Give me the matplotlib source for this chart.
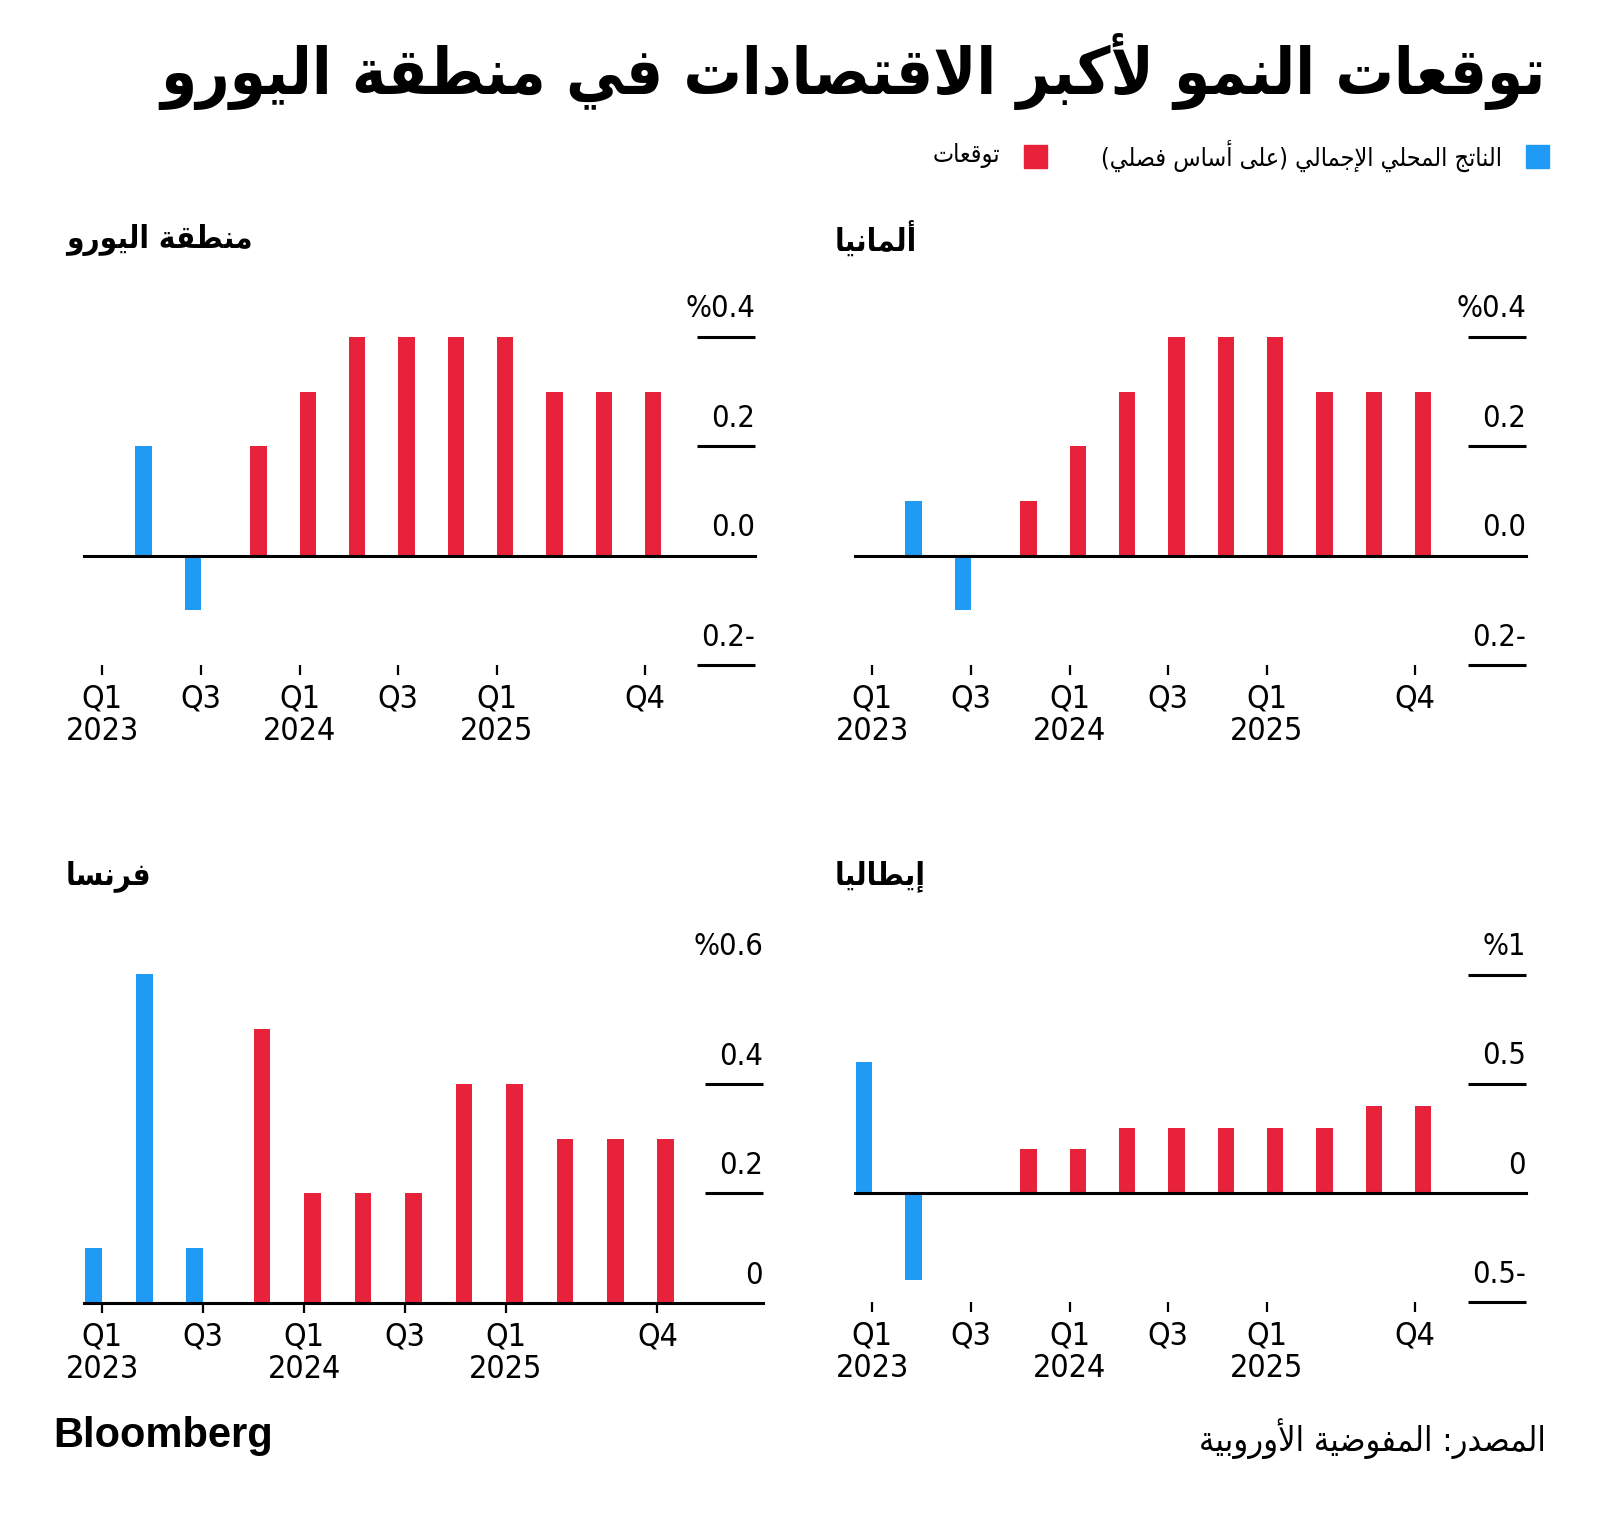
import matplotlib
matplotlib.use("Agg")
import matplotlib.pyplot as plt
from matplotlib.patches import Rectangle

# --- data -------------------------------------------------------------
tick_idx = [0, 2, 4, 6, 8, 11]
tick_labels = ["Q1\n2023", "Q3", "Q1\n2024", "Q3", "Q1\n2025", "Q4"]

euro_gdp = [0.0, 0.2, -0.1]
euro_fc = [0.2, 0.3, 0.4, 0.4, 0.4, 0.4, 0.3, 0.3, 0.3]
germany_gdp = [0.0, 0.1, -0.1]
germany_fc = [0.1, 0.2, 0.3, 0.4, 0.4, 0.4, 0.3, 0.3, 0.3]
france_gdp = [0.1, 0.6, 0.1]
france_fc = [0.5, 0.2, 0.2, 0.2, 0.4, 0.4, 0.3, 0.3, 0.3]
italy_gdp = [0.6, -0.4, 0.0]
italy_fc = [0.2, 0.2, 0.3, 0.3, 0.3, 0.3, 0.3, 0.4, 0.4]

title = "توقعات النمو لأكبر الاقتصادات في منطقة اليورو"
legend_gdp = "الناتج المحلي الإجمالي (على أساس فصلي)"
legend_fc = "توقعات"
source = "المصدر: المفوضية الأوروبية"

BLUE = "#1f9bf6"
RED = "#e8223a"
NUM_FONT = ["DejaVu Sans"]
AR_FONT = ["DejaVu Sans"]

# --- minimal arabic shaping (matplotlib has no bidi / joining) -------------
_right = {'\u0622': 0xFE81, '\u0623': 0xFE83, '\u0624': 0xFE85, '\u0625': 0xFE87,
          '\u0627': 0xFE8D, '\u0629': 0xFE93, '\u062F': 0xFEA9, '\u0630': 0xFEAB,
          '\u0631': 0xFEAD, '\u0632': 0xFEAF, '\u0648': 0xFEED, '\u0649': 0xFEEF}
_dual = {'\u0626': 0xFE89, '\u0628': 0xFE8F, '\u062A': 0xFE95, '\u062B': 0xFE99,
         '\u062C': 0xFE9D, '\u062D': 0xFEA1, '\u062E': 0xFEA5, '\u0633': 0xFEB1,
         '\u0634': 0xFEB5, '\u0635': 0xFEB9, '\u0636': 0xFEBD, '\u0637': 0xFEC1,
         '\u0638': 0xFEC5, '\u0639': 0xFEC9, '\u063A': 0xFECD, '\u0641': 0xFED1,
         '\u0642': 0xFED5, '\u0643': 0xFED9, '\u0644': 0xFEDD, '\u0645': 0xFEE1,
         '\u0646': 0xFEE5, '\u0647': 0xFEE9, '\u064A': 0xFEF1}
_lamalef = {'\u0622': 0xFEF5, '\u0623': 0xFEF7, '\u0625': 0xFEF9, '\u0627': 0xFEFB}


def ar(text):
    units = []
    i = 0
    while i < len(text):
        c = text[i]
        if c == '\u0644' and i + 1 < len(text) and text[i + 1] in _lamalef:
            units.append((_lamalef[text[i + 1]], 'R'))
            i += 2
            continue
        if c in _dual:
            units.append((_dual[c], 'D'))
        elif c in _right:
            units.append((_right[c], 'R'))
        else:
            units.append((c, 'N'))
        i += 1
    out = []
    for k, (u, kind) in enumerate(units):
        if kind == 'N':
            out.append(u)
            continue
        jp = k > 0 and units[k - 1][1] == 'D'
        jn = kind == 'D' and k + 1 < len(units) and units[k + 1][1] in 'DR'
        if kind == 'R':
            form = 1 if jp else 0
        else:
            form = {(False, False): 0, (True, False): 1,
                    (False, True): 2, (True, True): 3}[(jp, jn)]
        out.append(chr(u + form))
    s = ''.join(reversed(out))
    return s.translate(str.maketrans('()', ')('))


# --- panels -------------------------------------------------------------
W, H = 1600, 1513
panels = [
    dict(name="منطقة اليورو", gdp=euro_gdp, fc=euro_fc,
         yticks=[0.4, 0.2, 0.0, -0.2], ylabels=["%0.4", "0.2", "0.0", "0.2-"],
         ylines=[0.4, 0.2, -0.2], ylim=(-0.2, 0.45),
         px=(84, 755), py=(309.5, 665), xlim=(-0.37, 13.23), tx=66, ty=240),
    dict(name="ألمانيا", gdp=germany_gdp, fc=germany_fc,
         yticks=[0.4, 0.2, 0.0, -0.2], ylabels=["%0.4", "0.2", "0.0", "0.2-"],
         ylines=[0.4, 0.2, -0.2], ylim=(-0.2, 0.45),
         px=(855, 1526), py=(309.5, 665), xlim=(-0.35, 13.25), tx=835, ty=240),
    dict(name="فرنسا", gdp=france_gdp, fc=france_fc,
         yticks=[0.6, 0.4, 0.2, 0.0], ylabels=["%0.6", "0.4", "0.2", "0"],
         ylines=[0.4, 0.2], ylim=(0.0, 0.62),
         px=(84, 763), py=(963.5, 1303), xlim=(-0.36, 13.09), tx=66, ty=876),
    dict(name="إيطاليا", gdp=italy_gdp, fc=italy_fc,
         yticks=[1.0, 0.5, 0.0, -0.5], ylabels=["%1", "0.5", "0", "0.5-"],
         ylines=[1.0, 0.5, -0.5], ylim=(-0.5, 1.05),
         px=(855, 1526), py=(964, 1302), xlim=(-0.35, 13.25), tx=835, ty=876),
]

fig = plt.figure(figsize=(W / 100, H / 100), dpi=100)
fig.patch.set_facecolor("white")

w = 0.333
for p in panels:
    x0, x1 = p["px"]
    y0, y1 = p["py"]
    ax = fig.add_axes([x0 / W, 1 - y1 / H, (x1 - x0) / W, (y1 - y0) / H])
    n_gdp = len(p["gdp"])
    xs_gdp = [i - w / 2 for i in range(n_gdp)]
    xs_fc = [n_gdp + i + w / 2 for i in range(len(p["fc"]))]
    ax.bar(xs_gdp, p["gdp"], width=w, color=BLUE, zorder=2)
    ax.bar(xs_fc, p["fc"], width=w, color=RED, zorder=2)
    ax.axhline(0, color="black", lw=2.2, zorder=3, clip_on=False)
    ax.set_xlim(*p["xlim"])
    ax.set_ylim(*p["ylim"])
    for s in ax.spines.values():
        s.set_visible(False)
    ax.set_yticks([])
    ax.set_xticks(tick_idx, tick_labels)
    ax.tick_params(axis="x", length=7.5, width=1.6, pad=6, labelsize=23,
                   color="black")
    for lab in ax.get_xticklabels():
        lab.set_family(NUM_FONT)
        lab.set_stretch("condensed")
        lab.set_linespacing(1.05)
    frac = 58 / (x1 - x0)
    for v in p["ylines"]:
        ax.plot([1 - frac, 1], [v, v], transform=ax.get_yaxis_transform(),
                color="black", lw=2.2, clip_on=False, solid_capstyle="butt")
    for v, lab in zip(p["yticks"], p["ylabels"]):
        ax.annotate(lab, xy=(1, v), xycoords=("axes fraction", "data"),
                    xytext=(0, 14), textcoords="offset points", ha="right",
                    va="baseline", fontsize=22, family=NUM_FONT,
                    stretch="condensed", annotation_clip=False)
    fig.text(p["tx"] / W, 1 - p["ty"] / H, ar(p["name"]), ha="left",
             va="center", fontsize=22.5, fontweight="bold", family=AR_FONT,
             stretch="condensed")

# title
fig.text(1546 / W, 1 - 71 / H, ar(title), ha="right", va="center",
         fontsize=46.5, fontweight="bold", family=AR_FONT, stretch="condensed")

# legend (right to left)
fig.add_artist(Rectangle((1526 / W, 1 - 168 / H), 23 / W, 23 / H,
                         transform=fig.transFigure, color=BLUE))
fig.text(1502 / W, 1 - 156 / H, ar(legend_gdp), ha="right", va="center",
         fontsize=18, family=AR_FONT, stretch="condensed")
fig.add_artist(Rectangle((1024 / W, 1 - 168 / H), 23 / W, 23 / H,
                         transform=fig.transFigure, color=RED))
fig.text(1000 / W, 1 - 156 / H, ar(legend_fc), ha="right", va="center",
         fontsize=18, family=AR_FONT, stretch="condensed")

# footer
fig.text(53 / W, 1 - 1436 / H, "Bloomberg", ha="left", va="center",
         fontsize=30, fontweight="bold", family=["Liberation Sans", "DejaVu Sans"])
fig.text(1546 / W, 1 - 1439 / H, ar(source), ha="right", va="center",
         fontsize=24.5, family=AR_FONT, stretch="condensed")

fig.savefig("out.png", dpi=100, facecolor="white")
